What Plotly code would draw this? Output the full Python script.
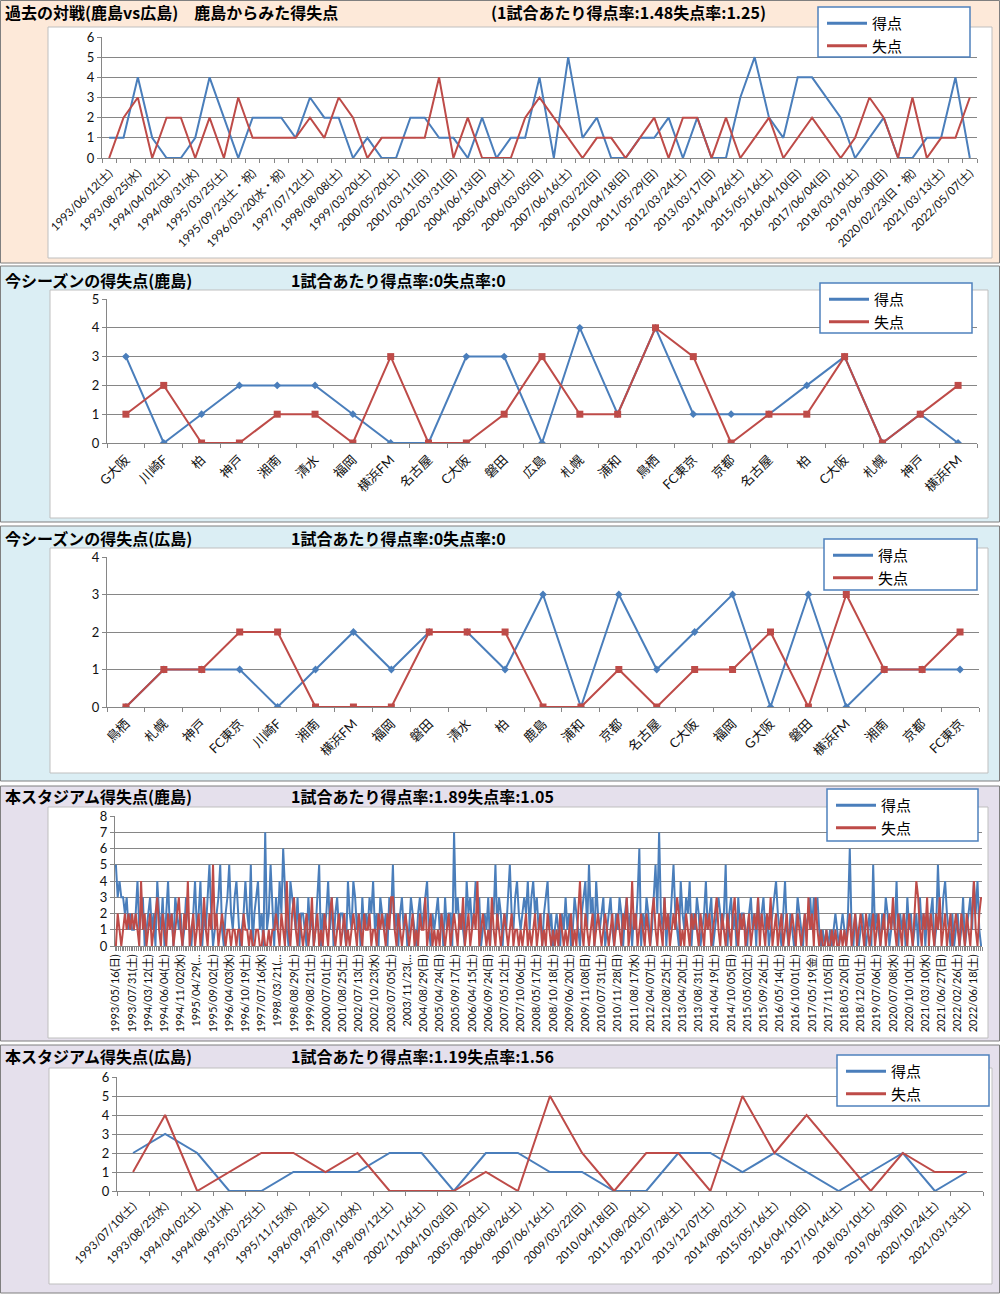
import plotly.graph_objects as go

# ---------------- data ----------------
# Panel 1: head-to-head (Kashima vs Hiroshima), every other match is labelled
h2h_labels = ["1993/06/12(土)", "1993/08/25(水)", "1994/04/02(土)", "1994/08/31(水)", "1995/03/25(土)",
              "1995/09/23(土・祝)", "1996/03/20(水・祝)", "1997/07/12(土)", "1998/08/08(土)", "1999/03/20(土)",
              "2000/05/20(土)", "2001/03/11(日)", "2002/03/31(日)", "2004/06/13(日)", "2005/04/09(土)",
              "2006/03/05(日)", "2007/06/16(土)", "2009/03/22(日)", "2010/04/18(日)", "2011/05/29(日)",
              "2012/03/24(土)", "2013/03/17(日)", "2014/04/26(土)", "2015/05/16(土)", "2016/04/10(日)",
              "2017/06/04(日)", "2018/03/10(土)", "2019/06/30(日)", "2020/02/23(日・祝)", "2021/03/13(土)",
              "2022/05/07(土)"]
h2h_for = [1, 1, 4, 1, 0, 0, 1, 4, 2, 0, 2, 2, 2, 1, 3, 2, 2, 0, 1, 0, 0, 2, 2, 1, 1, 0, 2, 0, 1,
           1, 4, 0, 5, 1, 2, 0, 0, 1, 1, 2, 0, 2, 0, 0, 3, 5, 2, 1, 4, 4, 3, 2, 0, 1, 2, 0, 0, 1, 1, 4, 0]
h2h_against = [0, 2, 3, 0, 2, 2, 0, 2, 0, 3, 1, 1, 1, 1, 2, 1, 3, 2, 0, 1, 1, 1, 1, 4, 0, 2, 0, 0, 0,
               2, 3, 2, 1, 0, 1, 1, 0, 1, 2, 0, 2, 2, 0, 2, 0, 1, 2, 0, 1, 2, 1, 0, 1, 3, 2, 0, 3, 0, 1, 1, 3]

# Panel 2: this season (Kashima)
kashima_opponents = ["G大阪", "川崎F", "柏", "神戸", "湘南", "清水", "福岡", "横浜FM", "名古屋", "C大阪", "磐田", "広島",
                     "札幌", "浦和", "鳥栖", "FC東京", "京都", "名古屋", "柏", "C大阪", "札幌", "神戸", "横浜FM"]
kashima_for = [3, 0, 1, 2, 2, 2, 1, 0, 0, 3, 3, 0, 4, 1, 4, 1, 1, 1, 2, 3, 0, 1, 0]
kashima_against = [1, 2, 0, 0, 1, 1, 0, 3, 0, 0, 1, 3, 1, 1, 4, 3, 0, 1, 1, 3, 0, 1, 2]

# Panel 3: this season (Hiroshima)
hiroshima_opponents = ["鳥栖", "札幌", "神戸", "FC東京", "川崎F", "湘南", "横浜FM", "福岡", "磐田", "清水", "柏", "鹿島",
                       "浦和", "京都", "名古屋", "C大阪", "福岡", "G大阪", "磐田", "横浜FM", "湘南", "京都", "FC東京"]
hiroshima_for = [0, 1, 1, 1, 0, 1, 2, 1, 2, 2, 1, 3, 0, 3, 1, 2, 3, 0, 3, 0, 1, 1, 1]
hiroshima_against = [0, 1, 1, 2, 2, 0, 0, 0, 2, 2, 2, 0, 0, 1, 0, 1, 1, 2, 0, 3, 1, 1, 2]

# Panel 4: this stadium (Kashima), every 9th match is labelled
kashima_home_labels = ["1993/05/16(日)", "1993/07/31(土)", "1994/03/12(土)", "1994/06/04(土)", "1994/11/02(水)",
                       "1995/04/29(…", "1995/09/02(土)", "1996/04/03(水)", "1996/10/19(土)", "1997/07/16(水)",
                       "1998/03/21(…", "1998/08/29(土)", "1999/08/21(土)", "2000/07/01(土)", "2001/08/25(土)",
                       "2002/07/13(土)", "2002/10/23(水)", "2003/07/05(土)", "2003/11/23(…", "2004/08/29(日)",
                       "2005/04/24(日)", "2005/09/17(土)", "2006/04/15(土)", "2006/09/24(日)", "2007/05/12(土)",
                       "2007/10/06(土)", "2008/05/17(土)", "2008/10/18(土)", "2009/06/20(土)", "2009/11/08(日)",
                       "2010/07/31(土)", "2010/11/28(日)", "2011/08/17(水)", "2012/04/07(土)", "2012/08/25(土)",
                       "2013/04/20(土)", "2013/08/31(土)", "2014/04/19(土)", "2014/10/05(日)", "2015/05/02(土)",
                       "2015/09/26(土)", "2016/05/14(土)", "2016/10/01(土)", "2017/05/19(金)", "2017/11/05(日)",
                       "2018/05/20(日)", "2018/12/01(土)", "2019/07/06(土)", "2020/07/08(水)", "2020/10/10(土)",
                       "2021/03/10(水)", "2021/06/27(日)", "2022/02/26(土)", "2022/06/18(土)"]
kashima_home_for = [
    5, 3, 4, 3, 3, 2, 3, 1, 2,
    1, 1, 2, 4, 1, 2, 3, 0, 1,
    2, 3, 1, 2, 0, 4, 2, 1, 3,
    0, 2, 4, 1, 2, 0, 3, 2, 1,
    2, 0, 1, 3, 2, 1, 0, 2, 4,
    1, 2, 4, 0, 2, 1, 3, 5, 2,
    0, 1, 2, 3, 5, 1, 0, 2, 3,
    5, 2, 1, 3, 4, 2, 0, 1, 2,
    4, 2, 1, 5, 0, 2, 3, 4, 1,
    2, 0, 7, 1, 2, 5, 2, 0, 3,
    1, 4, 2, 6, 3, 1, 0, 4, 3,
    2, 1, 3, 0, 2, 2, 1, 0, 3,
    1, 2, 0, 1, 3, 5, 0, 2, 1,
    2, 4, 1, 3, 0, 2, 3, 1, 2,
    2, 1, 0, 4, 2, 1, 4, 3, 1,
    2, 0, 3, 1, 2, 1, 3, 2, 4,
    1, 2, 0, 3, 2, 1, 2, 0, 3,
    2, 5, 1, 2, 0, 2, 3, 1, 2,
    0, 1, 3, 2, 1, 0, 2, 3, 1,
    2, 3, 4, 1, 0, 2, 1, 2, 3,
    1, 2, 0, 3, 1, 2, 2, 0, 7,
    2, 3, 1, 2, 1, 0, 4, 2, 3,
    1, 2, 4, 2, 3, 0, 1, 2, 1,
    3, 0, 2, 2, 5, 1, 3, 2, 0,
    2, 1, 3, 5, 2, 1, 3, 4, 2,
    1, 2, 3, 2, 4, 1, 3, 4, 2,
    3, 1, 2, 0, 2, 3, 4, 1, 2,
    0, 1, 2, 1, 0, 2, 1, 3, 1,
    2, 0, 1, 3, 2, 1, 0, 2, 3,
    4, 1, 5, 2, 3, 0, 4, 2, 1,
    2, 3, 0, 1, 2, 3, 1, 0, 2,
    1, 3, 2, 0, 2, 3, 1, 2, 0,
    2, 1, 3, 6, 0, 2, 1, 3, 2,
    0, 1, 3, 5, 2, 7, 2, 1, 3,
    0, 2, 1, 3, 5, 2, 1, 0, 4,
    2, 1, 3, 2, 4, 0, 2, 1, 3,
    2, 0, 1, 2, 4, 1, 2, 3, 0,
    1, 2, 3, 2, 1, 2, 5, 0, 2,
    3, 1, 2, 0, 3, 1, 2, 2, 1,
    0, 2, 3, 1, 2, 0, 3, 1, 2,
    3, 1, 2, 0, 1, 2, 3, 4, 2,
    1, 0, 2, 4, 1, 0, 2, 1, 0,
    1, 3, 2, 1, 0, 2, 1, 2, 3,
    1, 3, 2, 3, 1, 0, 1, 0, 1,
    0, 1, 0, 1, 2, 1, 0, 1, 2,
    1, 0, 2, 6, 1, 0, 2, 1, 0,
    1, 2, 1, 0, 1, 2, 0, 5, 1,
    2, 1, 0, 2, 1, 3, 2, 0, 1,
    2, 1, 4, 0, 2, 1, 2, 0, 3,
    1, 2, 0, 1, 2, 0, 3, 1, 2,
    0, 2, 1, 2, 3, 0, 1, 5, 2,
    1, 3, 4, 2, 1, 0, 2, 0, 1,
    2, 0, 1, 3, 0, 1, 2, 3, 1,
    4, 2, 4, 1, 0]
kashima_home_against = [
    0, 2, 1, 0, 1, 2, 1, 2, 1,
    2, 1, 2, 1, 0, 4, 1, 2, 0,
    1, 2, 0, 1, 2, 3, 1, 0, 2,
    1, 0, 2, 1, 2, 0, 1, 2, 3,
    1, 0, 2, 1, 4, 0, 1, 2, 0,
    1, 2, 0, 1, 3, 1, 0, 2, 1,
    5, 1, 2, 0, 1, 2, 1, 0, 1,
    1, 0, 1, 1, 0, 1, 1, 0, 2,
    1, 1, 0, 1, 0, 0, 1, 1, 0,
    0, 1, 0, 0, 1, 0, 1, 1, 2,
    1, 0, 2, 1, 0, 4, 1, 0, 2,
    3, 1, 0, 2, 1, 0, 1, 2, 0,
    1, 3, 0, 1, 2, 0, 1, 0, 2,
    1, 0, 2, 3, 1, 0, 1, 2, 0,
    1, 2, 0, 1, 0, 1, 2, 1, 0,
    2, 1, 0, 2, 1, 1, 2, 0, 1,
    1, 0, 2, 1, 2, 1, 0, 2, 1,
    3, 3, 1, 0, 2, 1, 0, 1, 2,
    1, 0, 1, 2, 0, 1, 0, 2, 1,
    1, 3, 0, 1, 2, 0, 1, 0, 1,
    0, 2, 1, 0, 1, 2, 0, 1, 2,
    1, 0, 2, 1, 3, 0, 1, 2, 0,
    1, 2, 1, 4, 0, 1, 2, 1, 0,
    1, 0, 3, 1, 0, 2, 1, 0, 1,
    2, 1, 0, 1, 2, 0, 1, 1, 0,
    1, 0, 1, 2, 0, 1, 0, 1, 2,
    0, 1, 2, 0, 1, 0, 2, 1, 0,
    1, 0, 1, 0, 2, 1, 0, 1, 0,
    1, 2, 0, 1, 0, 2, 4, 1, 0,
    2, 1, 0, 1, 2, 0, 1, 2, 1,
    0, 1, 2, 1, 0, 1, 2, 0, 1,
    2, 1, 0, 2, 1, 3, 0, 1, 4,
    1, 2, 0, 1, 2, 1, 0, 2, 1,
    0, 2, 3, 1, 0, 2, 1, 0, 3,
    1, 2, 0, 1, 2, 1, 3, 2, 0,
    1, 0, 2, 1, 0, 2, 1, 2, 1,
    0, 2, 1, 0, 2, 1, 2, 0, 1,
    2, 3, 1, 0, 2, 1, 0, 2, 1,
    0, 2, 3, 1, 0, 2, 1, 2, 0,
    1, 2, 0, 1, 2, 1, 3, 0, 2,
    1, 0, 2, 1, 3, 0, 1, 2, 0,
    1, 2, 0, 1, 2, 0, 1, 2, 1,
    0, 2, 1, 0, 1, 2, 0, 3, 1,
    2, 0, 3, 1, 0, 1, 0, 0, 1,
    0, 0, 1, 0, 1, 0, 0, 1, 0,
    1, 0, 1, 2, 0, 1, 2, 0, 1,
    2, 1, 0, 2, 1, 0, 1, 2, 0,
    1, 2, 0, 1, 2, 0, 1, 2, 1,
    3, 1, 0, 2, 1, 0, 2, 1, 0,
    2, 1, 0, 2, 4, 3, 1, 0, 2,
    1, 3, 0, 2, 1, 0, 2, 1, 3,
    0, 1, 2, 0, 1, 2, 0, 1, 2,
    1, 0, 2, 1, 0, 2, 1, 0, 2,
    4, 1, 0, 2, 3]
KASHIMA_LABEL_EVERY = 9

# Panel 5: this stadium (Hiroshima)
hiroshima_home_labels = ["1993/07/10(土)", "1993/08/25(水)", "1994/04/02(土)", "1994/08/31(水)", "1995/03/25(土)",
                         "1995/11/15(水)", "1996/09/28(土)", "1997/09/10(水)", "1998/09/12(土)", "2002/11/16(土)",
                         "2004/10/03(日)", "2005/08/20(土)", "2006/08/26(土)", "2007/06/16(土)", "2009/03/22(日)",
                         "2010/04/18(日)", "2011/08/20(土)", "2012/07/28(土)", "2013/12/07(土)", "2014/08/02(土)",
                         "2015/05/16(土)", "2016/04/10(日)", "2017/10/14(土)", "2018/03/10(土)", "2019/06/30(日)",
                         "2020/10/24(土)", "2021/03/13(土)"]
hiroshima_home_for = [2, 3, 2, 0, 0, 1, 1, 1, 2, 2, 0, 2, 2, 1, 1, 0, 0, 2, 2, 1, 2, 1, 0, 1, 2, 0, 1]
hiroshima_home_against = [1, 4, 0, 1, 2, 2, 1, 2, 0, 0, 0, 1, 0, 5, 2, 0, 2, 2, 0, 5, 2, 4, 2, 0, 2, 1, 1]

titles = ["過去の対戦(鹿島vs広島)　鹿島からみた得失点", "今シーズンの得失点(鹿島)", "今シーズンの得失点(広島)",
          "本スタジアム得失点(鹿島)", "本スタジアム得失点(広島)"]
rates = ["(1試合あたり得点率:1.48失点率:1.25)", "1試合あたり得点率:0失点率:0", "1試合あたり得点率:0失点率:0",
         "1試合あたり得点率:1.89失点率:1.05", "1試合あたり得点率:1.19失点率:1.56"]
series_names = ["得点", "失点"]

# ---------------- layout helpers ----------------
W, H = 1000, 1295
BLUE = "#4a7ebb"
RED = "#be4b48"
GRID = "#868686"
TICKFONT = dict(family="Lato, 'Noto Sans CJK JP', sans-serif", size=12, color="#111111")
JPFONT = "'Noto Sans CJK JP', sans-serif"


def fx(px):
    return px / W


def fy(py):
    return 1 - py / H


shapes = []
annotations = []


def rect(x0, y0, x1, y1, fill, line, lw=1.0, layer="below"):
    shapes.append(dict(type="rect", xref="paper", yref="paper",
                       x0=fx(x0), x1=fx(x1), y0=fy(y1), y1=fy(y0),
                       fillcolor=fill, line=dict(color=line, width=lw), layer=layer))


def idx_ticks(labels, every):
    return [i * every for i in range(len(labels))], labels


p1_vals, p1_text = idx_ticks(h2h_labels, 2)
p4_vals, p4_text = idx_ticks(kashima_home_labels, KASHIMA_LABEL_EVERY)

panels = [
    dict(fore=h2h_for, against=h2h_against, tv=p1_vals, tt=p1_text, ymax=6,
         xpx=(102, 977), ypx=(158, 37), angle=-45, fs=11.5, markers=False,
         bg=(0.5, 0.5, 999.5, 263, "#fde9d9"), inner=(48, 27, 992, 258),
         legbox=(818, 7, 970, 57), tx=4, ty=12, rx=490),
    dict(fore=kashima_for, against=kashima_against, tv=list(range(len(kashima_opponents))), tt=kashima_opponents,
         ymax=5, xpx=(107, 977), ypx=(443, 299), angle=-45, fs=13, markers=True,
         bg=(0.5, 266, 999.5, 522, "#dbeef4"), inner=(50, 290, 988, 518),
         legbox=(820, 283, 972, 333), tx=4, ty=280, rx=290),
    dict(fore=hiroshima_for, against=hiroshima_against, tv=list(range(len(hiroshima_opponents))),
         tt=hiroshima_opponents, ymax=4, xpx=(107, 979), ypx=(707, 557), angle=-45, fs=13, markers=True,
         bg=(0.5, 526, 999.5, 781, "#dbeef4"), inner=(50, 548, 988, 773),
         legbox=(824, 539, 977, 590), tx=4, ty=538, rx=290),
    dict(fore=kashima_home_for, against=kashima_home_against, tv=p4_vals, tt=p4_text, ymax=8,
         xpx=(115, 982), ypx=(946, 816), angle=-90, fs=11, markers=False,
         bg=(0.5, 786, 999.5, 1041, "#e5e0ec"), inner=(48, 807, 988, 1038),
         legbox=(827, 789, 978, 841), tx=4, ty=796, rx=290),
    dict(fore=hiroshima_home_for, against=hiroshima_home_against,
         tv=list(range(len(hiroshima_home_labels))), tt=hiroshima_home_labels, ymax=6,
         xpx=(117, 983), ypx=(1191, 1077), angle=-45, fs=11.5, markers=False,
         bg=(0.5, 1045, 999.5, 1293, "#e5e0ec"), inner=(49, 1068, 992, 1284),
         legbox=(837, 1055, 989, 1106), tx=4, ty=1056, rx=290),
]

fig = go.Figure()
layout_axes = {}
legends = {}

for k, p in enumerate(panels, start=1):
    xa = "x" if k == 1 else f"x{k}"
    ya = "y" if k == 1 else f"y{k}"
    xkey = "xaxis" if k == 1 else f"xaxis{k}"
    ykey = "yaxis" if k == 1 else f"yaxis{k}"
    lkey = "legend" if k == 1 else f"legend{k}"
    n = len(p["fore"])
    xs = list(range(n))

    # backgrounds
    bx0, by0, bx1, by1, col = p["bg"]
    rect(bx0, by0, bx1, by1, col, "#7f7f7f", 1)
    ix0, iy0, ix1, iy1 = p["inner"]
    rect(ix0, iy0, ix1, iy1, "#ffffff", "#bfbfbf", 1)
    lx0, ly0, lx1, ly1 = p["legbox"]
    rect(lx0, ly0, lx1, ly1, "#ffffff", "#4f81bd", 1.5, layer="above")

    # titles
    annotations.append(dict(text=f"<b>{titles[k-1]}</b>", xref="paper", yref="paper",
                            x=fx(p["tx"]), y=fy(p["ty"]), xanchor="left", yanchor="middle",
                            showarrow=False, borderpad=0,
                            font=dict(family=JPFONT, size=16, color="#000000")))
    annotations.append(dict(text=f"<b>{rates[k-1]}</b>", xref="paper", yref="paper",
                            x=fx(p["rx"]), y=fy(p["ty"]), xanchor="left", yanchor="middle",
                            showarrow=False, borderpad=0,
                            font=dict(family=JPFONT, size=16, color="#000000")))

    mode = "lines+markers" if p["markers"] else "lines"
    fig.add_trace(go.Scatter(x=xs, y=p["fore"], mode=mode, xaxis=xa, yaxis=ya, showlegend=False,
                             name=series_names[0], line=dict(color=BLUE, width=2),
                             marker=dict(symbol="diamond", size=6, color=BLUE)))
    fig.add_trace(go.Scatter(x=xs, y=p["against"], mode=mode, xaxis=xa, yaxis=ya, showlegend=False,
                             name=series_names[1], line=dict(color=RED, width=2),
                             marker=dict(symbol="square", size=7, color=RED)))
    # legend entries (lines only, as in the reference)
    for nm, c in zip(series_names, (BLUE, RED)):
        fig.add_trace(go.Scatter(x=[None], y=[None], mode="lines", name=nm, xaxis=xa, yaxis=ya,
                                 legend=lkey, showlegend=True, line=dict(color=c, width=3)))

    x0p, x1p = p["xpx"]
    ybp, ytp = p["ypx"]
    tf = dict(TICKFONT)
    tf["size"] = p["fs"]
    layout_axes[xkey] = dict(domain=[fx(x0p), fx(x1p)], anchor=ya, range=[-0.5, n - 0.5],
                             tickmode="array", tickvals=p["tv"], ticktext=p["tt"], tickangle=p["angle"],
                             ticks="outside", ticklen=3, tickcolor="rgba(0,0,0,0)",
                             tickfont=tf, showgrid=False, zeroline=False, automargin=False,
                             showline=True, linecolor=GRID, linewidth=1, fixedrange=True,
                             minor=dict(tickmode="array", tickvals=[i - 0.5 for i in range(n + 1)],
                                        ticks="outside", ticklen=4, tickcolor=GRID, showgrid=False))
    layout_axes[ykey] = dict(domain=[fy(ybp), fy(ytp)], anchor=xa, range=[0, p["ymax"]],
                             tickmode="linear", tick0=0, dtick=1, showgrid=True, gridcolor=GRID, gridwidth=1,
                             zeroline=False, showline=True, linecolor=GRID, linewidth=1, automargin=False,
                             ticks="outside", ticklen=4, tickcolor=GRID,
                             tickfont=dict(family="Lato, sans-serif", size=13, color="#111111"),
                             fixedrange=True)
    legends[lkey] = dict(x=fx(lx0 + 4), y=fy(ly0), xanchor="left", yanchor="top",
                         bgcolor="rgba(0,0,0,0)", borderwidth=0, itemwidth=40, tracegroupgap=0,
                         font=dict(family=JPFONT, size=15, color="#000000"))

fig.update_layout(width=W, height=H, autosize=False,
                  margin=dict(l=0, r=0, t=0, b=0, pad=0, autoexpand=False),
                  paper_bgcolor="#ffffff", plot_bgcolor="rgba(0,0,0,0)",
                  shapes=shapes, annotations=annotations, showlegend=True, hovermode=False,
                  **layout_axes, **legends)

fig.write_html("out.html", config={"displayModeBar": False},
               post_script="document.body.style.margin='0';")
